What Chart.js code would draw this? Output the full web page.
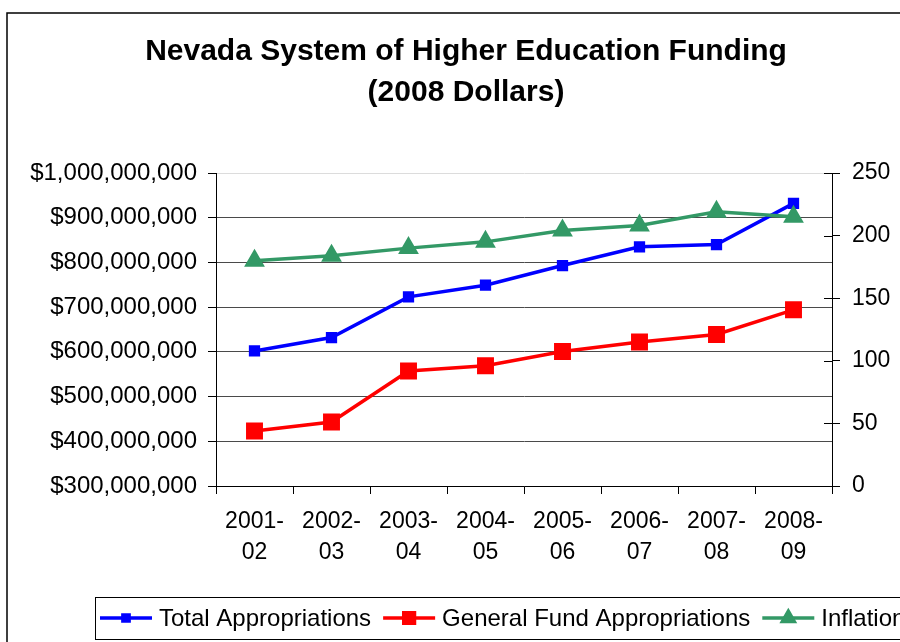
<!DOCTYPE html>
<html>
<head>
<meta charset="utf-8">
<script src="https://cdn.jsdelivr.net/npm/chart.js@4/dist/chart.umd.min.js"></script>
<style>
  html, body { margin: 0; padding: 0; background: #fff; overflow: hidden; width: 900px; height: 642px; }
  canvas { display: block; }
</style>
</head>
<body>
<canvas id="c" width="940" height="642"></canvas>
<script>
const categories = ['2001-02', '2002-03', '2003-04', '2004-05', '2005-06', '2006-07', '2007-08', '2008-09'];
const totalAppropriations = [602e6, 632e6, 723e6, 749e6, 793e6, 835e6, 840e6, 932e6];
const generalFundAppropriations = [423e6, 443e6, 557e6, 569e6, 601e6, 622e6, 639e6, 694e6];
const inflation = [180, 184, 190, 195, 204, 208, 219, 215];
const seriesNames = ['Total Appropriations', 'General Fund Appropriations', 'Inflation'];
const titleLines = ['Nevada System of Higher Education Funding', '(2008 Dollars)'];

const FONT = "'Liberation Sans', Arial, sans-serif";
Chart.defaults.font.family = FONT;
Chart.defaults.font.size = 23;
Chart.defaults.color = '#000';

const decor = {
  id: 'decor',
  afterDraw(chart) {
    const ctx = chart.ctx;
    ctx.save();
    // outer frame
    ctx.strokeStyle = '#000';
    ctx.lineWidth = 1.5;
    ctx.strokeRect(7, 13, 1000, 1000);
    // title
    ctx.fillStyle = '#000';
    ctx.font = "bold 30px " + FONT;
    ctx.textAlign = 'center';
    ctx.textBaseline = 'middle';
    ctx.fillText(titleLines[0], 466, 52);
    ctx.fillText(titleLines[1], 466, 93);
    // inner half of right-axis ticks
    const y1 = chart.scales.y1;
    ctx.strokeStyle = '#000';
    ctx.lineWidth = 1;
    y1.ticks.forEach(t => {
      const y = Math.round(y1.getPixelForValue(t.value)) + 0.5;
      ctx.beginPath();
      ctx.moveTo(chart.chartArea.right - 8, y);
      ctx.lineTo(chart.chartArea.right, y);
      ctx.stroke();
    });
    // legend box
    ctx.strokeStyle = '#000';
    ctx.lineWidth = 1;
    ctx.strokeRect(95.5, 597.5, 900, 42);
    ctx.font = "24px " + FONT;
    ctx.textAlign = 'left';
    ctx.textBaseline = 'middle';
    let x = 100;
    const ly = 618;
    chart.data.datasets.forEach((ds, i) => {
      ctx.strokeStyle = ds.borderColor;
      ctx.lineWidth = ds.borderWidth;
      ctx.beginPath();
      ctx.moveTo(x, ly);
      ctx.lineTo(x + 52, ly);
      ctx.stroke();
      Chart.helpers.drawPoint(ctx, {
        pointStyle: ds.pointStyle,
        radius: ds.pointRadius * 0.8,
        borderWidth: 1
      }, x + 26, ly);
      ctx.fillStyle = ds.borderColor;
      ctx.fill();
      ctx.fillStyle = '#000';
      ctx.fillText(ds.label, x + 59, ly + 1);
      x += 59 + ctx.measureText(ds.label).width + 12;
    });
    ctx.restore();
  }
};

new Chart(document.getElementById('c'), {
  type: 'line',
  data: {
    labels: categories,
    datasets: [
      {
        label: seriesNames[0], data: totalAppropriations, yAxisID: 'y',
        borderColor: '#0000ff', backgroundColor: '#0000ff', borderWidth: 3.5,
        pointStyle: 'rect', pointRadius: 5.5, pointBackgroundColor: '#0000ff', pointBorderColor: '#0000ff',
        tension: 0, order: 2
      },
      {
        label: seriesNames[1], data: generalFundAppropriations, yAxisID: 'y',
        borderColor: '#ff0000', backgroundColor: '#ff0000', borderWidth: 3.5,
        pointStyle: 'rect', pointRadius: 9.5, pointBackgroundColor: '#ff0000', pointBorderColor: '#ff0000',
        tension: 0, order: 1
      },
      {
        label: seriesNames[2], data: inflation, yAxisID: 'y1',
        borderColor: '#339966', backgroundColor: '#339966', borderWidth: 3.5,
        pointStyle: 'triangle', pointRadius: 8.5, pointBackgroundColor: '#339966', pointBorderColor: '#339966',
        tension: 0, order: 0
      }
    ]
  },
  options: {
    responsive: false,
    animation: false,
    devicePixelRatio: 1,
    layout: { padding: { top: 173, bottom: 56, left: 0, right: 0 } },
    plugins: { legend: { display: false }, title: { display: false }, tooltip: { enabled: false } },
    scales: {
      x: {
        offset: true,
        grid: { offset: true, drawOnChartArea: false, tickLength: 8, tickColor: '#000' },
        border: { color: '#000', width: 1 },
        ticks: {
          padding: 12, maxRotation: 0, autoSkip: false,
          font: { size: 23, lineHeight: 1.35 },
          callback: function (v) { const s = this.getLabelForValue(v); return [s.slice(0, 5), s.slice(5)]; }
        },
        afterFit: s => { s.height = 100; }
      },
      y: {
        position: 'left', min: 300e6, max: 1000e6,
        grid: {
          color: c => (c.tick && c.tick.value === 1000e6) ? '#dcdcdc' : '#4a4a4a',
          tickColor: '#000', tickLength: 8
        },
        border: { color: '#000', width: 1 },
        ticks: {
          stepSize: 100e6, padding: 11, font: { size: 24 },
          callback: v => '$' + Number(v).toLocaleString('en-US')
        },
        afterFit: s => { s.width = 216; }
      },
      y1: {
        position: 'right', min: 0, max: 250,
        grid: { drawOnChartArea: false, tickColor: '#000', tickLength: 8 },
        border: { color: '#000', width: 1 },
        ticks: { stepSize: 50, padding: 12 },
        afterFit: s => { s.width = 108; }
      }
    }
  },
  plugins: [decor]
});
</script>
</body>
</html>
